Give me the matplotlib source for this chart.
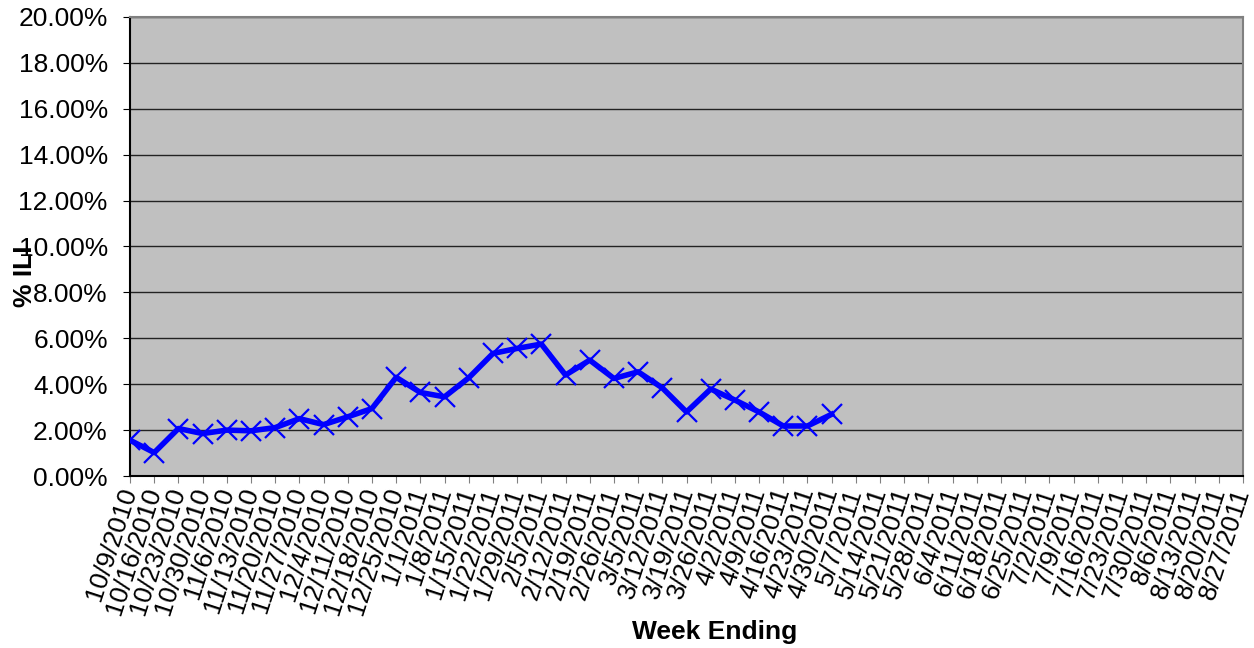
import matplotlib
matplotlib.use("Agg")
import matplotlib.pyplot as plt
from matplotlib.ticker import PercentFormatter

plt.rcParams['font.family'] = ['Liberation Sans', 'DejaVu Sans']

# week ending dates (x categories)
weeks = ['10/9/2010', '10/16/2010', '10/23/2010', '10/30/2010', '11/6/2010',
         '11/13/2010', '11/20/2010', '11/27/2010', '12/4/2010', '12/11/2010',
         '12/18/2010', '12/25/2010', '1/1/2011', '1/8/2011', '1/15/2011',
         '1/22/2011', '1/29/2011', '2/5/2011', '2/12/2011', '2/19/2011',
         '2/26/2011', '3/5/2011', '3/12/2011', '3/19/2011', '3/26/2011',
         '4/2/2011', '4/9/2011', '4/16/2011', '4/23/2011', '4/30/2011',
         '5/7/2011', '5/14/2011', '5/21/2011', '5/28/2011', '6/4/2011',
         '6/11/2011', '6/18/2011', '6/25/2011', '7/2/2011', '7/9/2011',
         '7/16/2011', '7/23/2011', '7/30/2011', '8/6/2011', '8/13/2011',
         '8/20/2011', '8/27/2011']

# % ILI, reported weeks only
ili = [1.56, 1.02, 2.07, 1.85, 2.00, 1.97, 2.11, 2.50, 2.24, 2.58,
       2.94, 4.30, 3.64, 3.45, 4.28, 5.34, 5.56, 5.75, 4.40, 5.05,
       4.25, 4.54, 3.84, 2.79, 3.79, 3.31, 2.79, 2.18, 2.18, 2.69]

fig = plt.figure(figsize=(12.54, 6.48), dpi=100)
ax = fig.add_axes([0.1037, 0.2654, 0.8875, 0.7084])
ax.set_facecolor('#C0C0C0')

ax.plot(range(len(ili)), ili, color='#0000FF', lw=4, marker='x',
        markersize=15, markeredgewidth=1.6, zorder=3)

ax.set_xlim(0, len(weeks) - 1)
ax.set_ylim(0, 20)
ax.set_yticks(range(0, 21, 2))
ax.yaxis.set_major_formatter(PercentFormatter(decimals=2))
ax.grid(axis='y', color='#222222', lw=1)
ax.set_axisbelow(True)

ax.set_xticks(range(len(weeks)))
ax.set_xticklabels(weeks, rotation=72, ha='right', va='center',
                   rotation_mode='anchor', fontsize=19)
ax.tick_params(axis='x', length=5, color='#808080', pad=4)
ax.tick_params(axis='y', length=5, labelsize=19, pad=11)

for s in ['top', 'right']:
    ax.spines[s].set_color('#808080')
    ax.spines[s].set_linewidth(1.5)
for s in ['left', 'bottom']:
    ax.spines[s].set_color('black')
    ax.spines[s].set_linewidth(1.5)

fig.text(0.5702, 0.024, 'Week Ending', ha='center', va='center',
         fontsize=19, fontweight='bold')
fig.text(0.020, 0.573, '% ILI', ha='center', va='center', rotation=90,
         fontsize=19, fontweight='bold')

fig.savefig('out.png', dpi=100)
